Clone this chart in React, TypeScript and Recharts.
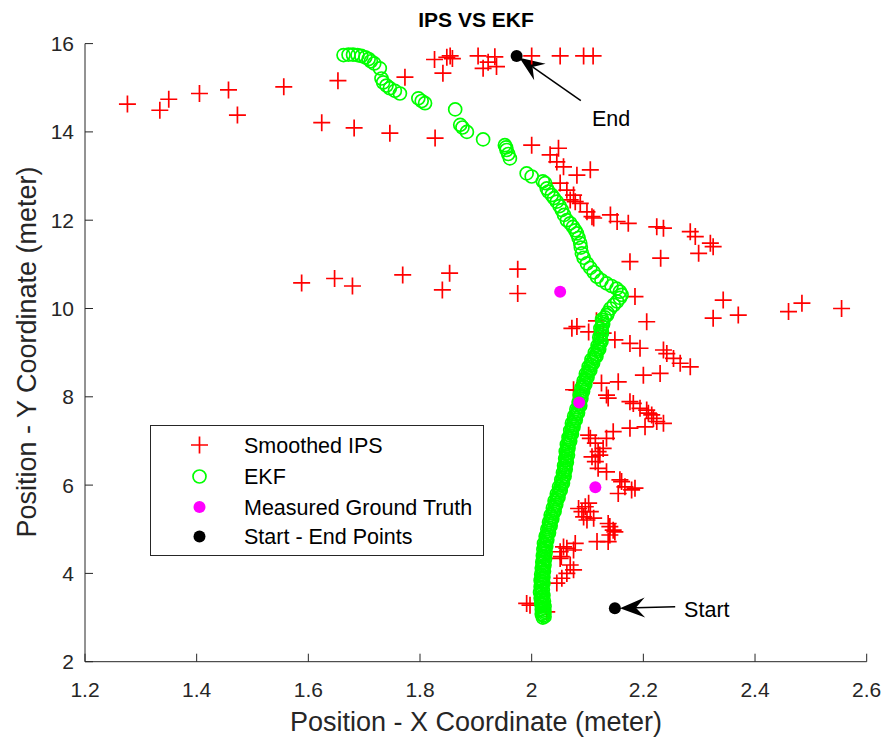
import React from 'react'
import { ScatterChart, Scatter, XAxis, YAxis, ReferenceLine, ReferenceDot } from 'recharts'

const FONT = '"Liberation Sans", Arial, Helvetica, sans-serif'
const AXIS = '#262626'

const xTicks = [1.2, 1.4, 1.6, 1.8, 2, 2.2, 2.4, 2.6]
const yTicks = [2, 4, 6, 8, 10, 12, 14, 16]

// smoothed IPS fixes (x, y) in meters
const ipsPoints: [number, number][] = [
  [1.276, 14.63], [1.334, 14.49], [1.35, 14.74], [1.405, 14.87], [1.457, 14.95], [1.473, 14.38],
  [1.556, 15.02], [1.653, 15.16], [1.624, 14.21], [1.682, 14.09], [1.746, 13.97], [1.827, 13.86],
  [1.773, 15.24], [1.826, 15.64], [1.841, 15.33], [1.848, 15.69], [1.854, 15.72], [1.858, 15.66],
  [1.904, 15.72], [1.913, 15.44], [1.934, 15.7], [1.937, 15.48], [1.922, 15.58], [2.0, 15.72],
  [2.051, 15.72], [2.093, 15.72], [2.11, 15.72],
  [1.588, 10.58], [1.647, 10.68], [1.679, 10.51], [1.769, 10.76], [1.853, 10.8], [1.84, 10.42],
  [1.975, 10.89], [1.975, 10.34],
  [2.0, 13.7], [2.033, 13.48], [2.048, 13.63], [2.045, 13.32], [2.057, 13.21], [2.081, 13.02],
  [2.105, 13.14], [2.051, 12.84], [2.063, 12.68], [2.075, 12.57], [2.069, 12.46], [2.078, 12.42],
  [2.087, 12.38], [2.099, 12.19], [2.108, 12.08], [2.111, 12.05], [2.141, 12.12], [2.153, 11.97],
  [2.173, 11.93], [2.224, 11.85], [2.236, 11.82], [2.284, 11.74], [2.293, 11.63], [2.32, 11.48],
  [2.325, 11.4], [2.299, 11.25], [2.231, 11.14], [2.176, 11.06],
  [2.185, 10.27], [2.343, 10.19], [2.484, 10.12], [2.46, 9.93], [2.555, 10.0], [2.37, 9.85],
  [2.325, 9.78], [2.206, 9.7], [2.116, 9.72],
  [2.072, 9.55], [2.081, 9.59], [2.102, 9.47], [2.128, 9.44], [2.149, 9.29], [2.176, 9.21],
  [2.194, 9.1], [2.236, 9.06], [2.242, 8.98], [2.254, 8.87], [2.266, 8.76], [2.284, 8.68],
  [2.2, 8.49], [2.23, 8.53], [2.155, 8.34], [2.125, 8.31], [2.075, 8.16], [2.134, 8.04],
  [2.081, 8.15], [2.137, 7.97], [2.176, 7.89], [2.182, 7.85], [2.194, 7.74], [2.206, 7.7],
  [2.209, 7.63], [2.215, 7.59], [2.218, 7.51], [2.224, 7.44], [2.236, 7.4], [2.203, 7.32],
  [2.176, 7.29], [2.146, 7.21], [2.102, 7.13], [2.105, 7.06], [2.134, 7.06], [2.114, 6.95],
  [2.128, 6.83], [2.119, 6.76], [2.122, 6.68], [2.108, 6.64], [2.114, 6.53], [2.119, 6.38],
  [2.134, 6.3], [2.158, 6.12], [2.161, 6.08], [2.167, 5.96], [2.185, 5.93], [2.179, 5.89],
  [2.155, 5.81],
  [2.102, 5.59], [2.096, 5.51], [2.084, 5.47], [2.105, 5.4], [2.09, 5.4], [2.093, 5.28],
  [2.111, 5.25], [2.099, 5.21], [2.137, 5.13], [2.14, 5.06], [2.146, 4.98], [2.149, 4.94],
  [2.14, 4.87], [2.117, 4.72], [2.137, 4.72], [2.078, 4.68], [2.057, 4.6], [2.063, 4.57],
  [2.075, 4.53], [2.051, 4.49], [2.053, 4.38], [2.051, 4.34], [2.069, 4.19], [2.075, 4.08],
  [2.063, 4.0], [2.054, 3.89], [2.045, 3.78], [1.991, 3.32], [1.997, 3.28], [2.027, 3.13],
]

// EKF estimates (x, y) in meters
const ekfPoints: [number, number][] = [
  [2.02, 3.0], [2.021, 3.05], [2.022, 3.1], [2.02, 3.16], [2.021, 3.22], [2.019, 3.28],
  [2.02, 3.34], [2.018, 3.4], [2.019, 3.47], [2.017, 3.53], [2.018, 3.6], [2.017, 3.67],
  [2.018, 3.74], [2.019, 3.81], [2.018, 3.88], [2.019, 3.95], [2.02, 4.02], [2.019, 4.09],
  [2.021, 4.16], [2.02, 4.23], [2.021, 4.3], [2.022, 4.37], [2.022, 4.44], [2.023, 4.51],
  [2.024, 4.58], [2.024, 4.65], [2.026, 4.72], [2.027, 4.8], [2.028, 4.88], [2.03, 4.96],
  [2.031, 5.04], [2.033, 5.12], [2.034, 5.2], [2.036, 5.28], [2.038, 5.36], [2.04, 5.44],
  [2.042, 5.52], [2.043, 5.6], [2.045, 5.68], [2.047, 5.76], [2.049, 5.84], [2.051, 5.92],
  [2.053, 6.0], [2.055, 6.08], [2.056, 6.16], [2.058, 6.24], [2.059, 6.32], [2.06, 6.4],
  [2.061, 6.48], [2.062, 6.56], [2.062, 6.64], [2.063, 6.72], [2.064, 6.8], [2.065, 6.88],
  [2.066, 6.96], [2.068, 7.04], [2.069, 7.12], [2.071, 7.2], [2.072, 7.28], [2.074, 7.36],
  [2.076, 7.44], [2.078, 7.52], [2.08, 7.6], [2.082, 7.68], [2.084, 7.76], [2.086, 7.84],
  [2.087, 7.92], [2.088, 8.0], [2.089, 8.08], [2.091, 8.16], [2.093, 8.24], [2.095, 8.32],
  [2.097, 8.4], [2.099, 8.48], [2.101, 8.56], [2.104, 8.64], [2.106, 8.72], [2.109, 8.8],
  [2.112, 8.88], [2.115, 8.96], [2.118, 9.04], [2.12, 9.12], [2.122, 9.2], [2.123, 9.3],
  [2.124, 9.4], [2.125, 9.5], [2.126, 9.6], [2.127, 9.7], [2.131, 9.8], [2.136, 9.9],
  [2.141, 10.0], [2.147, 10.08], [2.153, 10.16], [2.158, 10.24], [2.161, 10.31], [2.158, 10.38],
  [2.152, 10.45], [2.143, 10.51], [2.134, 10.57], [2.125, 10.64], [2.117, 10.72], [2.111, 10.82],
  [2.105, 10.92], [2.099, 11.02], [2.093, 11.15], [2.09, 11.25], [2.088, 11.38], [2.087, 11.48],
  [2.084, 11.6], [2.081, 11.7], [2.078, 11.77], [2.074, 11.85], [2.069, 11.93], [2.063, 12.0],
  [2.058, 12.12], [2.054, 12.23], [2.05, 12.32], [2.045, 12.42], [2.04, 12.5], [2.036, 12.57],
  [2.03, 12.65], [2.027, 12.72], [2.024, 12.84], [2.02, 12.88], [2.0, 12.99], [1.991, 13.06],
  [1.961, 13.4], [1.958, 13.5], [1.955, 13.59], [1.954, 13.65], [1.952, 13.7], [1.913, 13.83],
  [1.884, 14.0], [1.876, 14.1], [1.872, 14.16], [1.863, 14.51], [1.809, 14.65], [1.803, 14.7],
  [1.797, 14.76], [1.764, 14.87], [1.755, 14.93], [1.746, 14.99], [1.74, 15.05], [1.734, 15.12],
  [1.731, 15.21], [1.728, 15.44], [1.718, 15.55], [1.712, 15.6], [1.708, 15.65], [1.702, 15.69],
  [1.695, 15.72], [1.688, 15.74], [1.68, 15.75], [1.672, 15.75], [1.663, 15.74],
  // densely packed lower stretch, second reading across the band
  [2.023, 3.02], [2.018, 3.08], [2.023, 3.13], [2.018, 3.19], [2.023, 3.25], [2.017, 3.31],
  [2.022, 3.37], [2.016, 3.44], [2.021, 3.5], [2.015, 3.57], [2.02, 3.63], [2.016, 3.7],
  [2.021, 3.77], [2.016, 3.84], [2.021, 3.91], [2.017, 3.98], [2.022, 4.05], [2.018, 4.12],
  [2.023, 4.19], [2.019, 4.26], [2.024, 4.33], [2.02, 4.4], [2.025, 4.47], [2.021, 4.54],
  [2.026, 4.61], [2.022, 4.68], [2.028, 4.76], [2.025, 4.84], [2.031, 4.92], [2.028, 5.0],
  [2.034, 5.08], [2.031, 5.16], [2.037, 5.24], [2.034, 5.32], [2.041, 5.4], [2.038, 5.48],
  [2.044, 5.56], [2.041, 5.64], [2.048, 5.72], [2.045, 5.8], [2.052, 5.88], [2.049, 5.96],
  [2.056, 6.04], [2.053, 6.12], [2.059, 6.2], [2.056, 6.28], [2.061, 6.36], [2.058, 6.44],
  [2.063, 6.52], [2.06, 6.6], [2.065, 6.68], [2.061, 6.76], [2.066, 6.84], [2.063, 6.92],
  [2.069, 7.0], [2.066, 7.08], [2.072, 7.16], [2.069, 7.24], [2.075, 7.32], [2.072, 7.4],
  [2.079, 7.48], [2.076, 7.56], [2.083, 7.64], [2.08, 7.72], [2.087, 7.8], [2.084, 7.88],
  [2.089, 7.96], [2.086, 8.04], [2.092, 8.12], [2.089, 8.2], [2.096, 8.28], [2.093, 8.36],
  [2.1, 8.44], [2.097, 8.52], [2.105, 8.6], [2.102, 8.68], [2.11, 8.76], [2.107, 8.84],
  [2.116, 8.92], [2.113, 9.0], [2.121, 9.08], [2.118, 9.16], [2.125, 9.25], [2.121, 9.35],
  [2.126, 9.45], [2.123, 9.55], [2.128, 9.65], [2.126, 9.75], [2.135, 9.85],
]

const truthPoints: [number, number][] = [[2.051, 10.38], [2.085, 7.87], [2.114, 5.95]]
const startEndPoints: [number, number][] = [[2.149, 3.21], [1.973, 15.72]]

// annotation arrows: tail -> tip, text anchor
const arrowTails: [number, number][] = [[2.088, 14.71], [2.257, 3.246]]
const arrowTips: [number, number][] = [[1.978, 15.68], [2.158, 3.21]]
const arrowTexts = ['End', 'Start']
const textAnchors: [number, number][] = [[2.108, 14.31], [2.273, 3.19]]

const toRows = (pts: [number, number][]) => pts.map(([x, y]) => ({ x, y }))

const PlusMark = (p: any) => (
  <path d={`M${p.cx - 8.5},${p.cy}H${p.cx + 8.5}M${p.cx},${p.cy - 8.5}V${p.cy + 8.5}`} stroke="#ff0000" strokeWidth={1.7} fill="none" />
)
const RingMark = (p: any) => <circle cx={p.cx} cy={p.cy} r={6.5} fill="none" stroke="#00ff00" strokeWidth={1.7} />
const dotMark = (color: string) => (p: any) => <circle cx={p.cx} cy={p.cy} r={6} fill={color} />

const Arrow = (p: any) => {
  const { x1, y1, x2, y2 } = p
  const dx = x2 - x1
  const dy = y2 - y1
  const len = Math.hypot(dx, dy) || 1
  const ux = dx / len
  const uy = dy / len
  const px = -uy
  const py = ux
  const L = 25
  const W = 10
  const N = 16
  const head = [
    [x2, y2],
    [x2 - ux * L + px * W, y2 - uy * L + py * W],
    [x2 - ux * N, y2 - uy * N],
    [x2 - ux * L - px * W, y2 - uy * L - py * W],
  ]
  return (
    <g>
      <line x1={x1} y1={y1} x2={x2 - ux * N} y2={y2 - uy * N} stroke="#000" strokeWidth={1.5} />
      <polygon points={head.map((h) => h.join(',')).join(' ')} fill="#000" />
    </g>
  )
}

const LegendBox = () => {
  const rows = [
    { label: 'Smoothed IPS', kind: 'plus' },
    { label: 'EKF', kind: 'ring' },
    { label: 'Measured Ground Truth', kind: 'magenta' },
    { label: 'Start - End Points', kind: 'black' },
  ]
  const rowY = [20, 51.5, 82, 111.5]
  return (
    <svg width={334} height={131} style={{ position: 'absolute', left: 150, top: 425 }}>
      <rect x={0.5} y={0.5} width={333} height={130} fill="#fff" stroke={AXIS} strokeWidth={1} />
      {rows.map((r, i) => {
        const cy = rowY[i]
        const cx = 49.5
        let mark
        if (r.kind === 'plus') mark = <PlusMark cx={cx} cy={cy} />
        else if (r.kind === 'ring') mark = <RingMark cx={cx} cy={cy} />
        else mark = <circle cx={cx} cy={cy} r={6} fill={r.kind === 'magenta' ? '#ff00ff' : '#000'} />
        return (
          <g key={r.label}>
            {mark}
            <text x={94} y={cy} dy="0.36em" fontSize={21.5} fontFamily={FONT} fill="#000">{r.label}</text>
          </g>
        )
      })}
    </svg>
  )
}

export default function App() {
  const tickStyle = { fill: AXIS, fontSize: 21, fontFamily: FONT }
  return (
    <div style={{ position: 'relative', width: 886, height: 743, background: '#fff', fontFamily: FONT }}>
      <style>{'body{margin:0}'}</style>
      <ScatterChart width={886} height={743} margin={{ top: 43.6, right: 19.3, bottom: 51.3, left: 25 }}>
        <XAxis
          type="number"
          dataKey="x"
          domain={[1.2, 2.6]}
          ticks={xTicks}
          allowDataOverflow
          height={30}
          tickSize={-8}
          tickMargin={28}
          tick={tickStyle}
          axisLine={{ stroke: AXIS, strokeWidth: 1 }}
          tickLine={{ stroke: AXIS, strokeWidth: 1 }}
        />
        <YAxis
          type="number"
          dataKey="y"
          domain={[2, 16]}
          ticks={yTicks}
          allowDataOverflow
          width={60}
          tickSize={-8}
          tickMargin={19}
          tick={tickStyle}
          axisLine={{ stroke: AXIS, strokeWidth: 1 }}
          tickLine={{ stroke: AXIS, strokeWidth: 1 }}
        />
        <Scatter name="Smoothed IPS" data={toRows(ipsPoints)} shape={PlusMark} isAnimationActive={false} />
        <Scatter name="EKF" data={toRows(ekfPoints)} shape={RingMark} isAnimationActive={false} />
        <Scatter name="Measured Ground Truth" data={toRows(truthPoints)} shape={dotMark('#ff00ff')} isAnimationActive={false} />
        <Scatter name="Start - End Points" data={toRows(startEndPoints)} shape={dotMark('#000')} isAnimationActive={false} />
        {arrowTails.map((t, i) => (
          <ReferenceLine
            key={'a' + i}
            segment={[{ x: t[0], y: t[1] }, { x: arrowTips[i][0], y: arrowTips[i][1] }]}
            shape={Arrow}
            ifOverflow="visible"
          />
        ))}
        {textAnchors.map((a, i) => (
          <ReferenceDot
            key={'t' + i}
            x={a[0]}
            y={a[1]}
            ifOverflow="visible"
            shape={(p: any) => (
              <text x={p.cx} y={p.cy} dy="0.36em" fontSize={21.5} fontFamily={FONT} fill="#000">{arrowTexts[i]}</text>
            )}
          />
        ))}
      </ScatterChart>
      <LegendBox />
      <div style={{ position: 'absolute', left: 476, top: 19, transform: 'translate(-50%,-50%)', fontSize: 21, fontWeight: 'bold', lineHeight: 1, whiteSpace: 'nowrap', color: '#000' }}>
        IPS VS EKF
      </div>
      <div style={{ position: 'absolute', left: 476, top: 722, transform: 'translate(-50%,-50%)', fontSize: 27, lineHeight: 1, whiteSpace: 'nowrap', color: AXIS }}>
        Position - X Coordinate (meter)
      </div>
      <div style={{ position: 'absolute', left: 27, top: 352, transform: 'translate(-50%,-50%) rotate(-90deg)', fontSize: 27, lineHeight: 1, whiteSpace: 'nowrap', color: AXIS }}>
        Position - Y Coordinate (meter)
      </div>
    </div>
  )
}
